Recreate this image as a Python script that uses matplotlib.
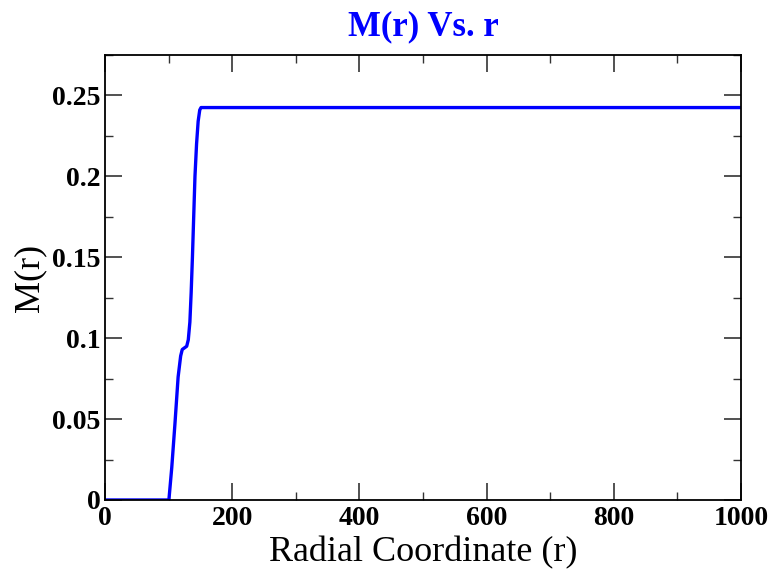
import matplotlib.pyplot as plt
from matplotlib.ticker import MultipleLocator

r_vals = [0, 50, 100.5, 105, 110, 115, 119, 121.5, 125, 128.5, 131, 133.5, 135.5,
          137.5, 139.5, 141.5, 144, 146.5, 149, 151, 200, 400, 600, 800, 1000]
m_vals = [0, 0, 0, 0.020, 0.047, 0.076, 0.089, 0.093, 0.094, 0.095, 0.099, 0.110, 0.128,
          0.150, 0.175, 0.200, 0.220, 0.234, 0.241, 0.2425, 0.2425, 0.2425, 0.2425, 0.2425, 0.2425]


def main():
  plt.rcParams['font.family'] = ['Liberation Serif', 'DejaVu Serif']
  fig = plt.figure(figsize=(7.73, 5.69), dpi=100)
  ax = fig.add_axes([0.1358, 0.1213, 0.8228, 0.7821])
  ax.plot(r_vals, m_vals, color='#0000ff', linewidth=2.4)

  ax.set_xlim(0, 1000)
  ax.set_ylim(0, 0.275)
  ax.xaxis.set_major_locator(MultipleLocator(200))
  ax.xaxis.set_minor_locator(MultipleLocator(100))
  ax.yaxis.set_major_locator(MultipleLocator(0.05))
  ax.yaxis.set_minor_locator(MultipleLocator(0.025))
  ax.tick_params(which='both', direction='in', top=True, right=True, color='#333333')
  ax.tick_params(which='major', length=12, width=1.2, labelsize=20, pad=3)
  ax.tick_params(axis='x', which='major', pad=4)
  ax.tick_params(which='minor', length=6, width=1.0)
  ax.set_xticks([0, 200, 400, 600, 800, 1000])
  ax.set_xticklabels(['0', '200', '400', '600', '800', '1000'], fontweight='bold')
  ax.set_yticks([0, 0.05, 0.1, 0.15, 0.2, 0.25])
  ax.set_yticklabels(['0', '0.05', '0.1', '0.15', '0.2', '0.25'], fontweight='bold')
  for s in ax.spines.values():
    s.set_linewidth(1.3)

  ax.set_xlabel('Radial Coordinate (r)', fontsize=26, labelpad=4)
  ax.set_ylabel('M(r)', fontsize=26, labelpad=4)
  ax.set_title('M(r) Vs. r', fontsize=25, fontweight='bold', color='#0000ff', pad=14)
  fig.savefig('out.png', dpi=100)


if __name__ == "__main__":
  main()
